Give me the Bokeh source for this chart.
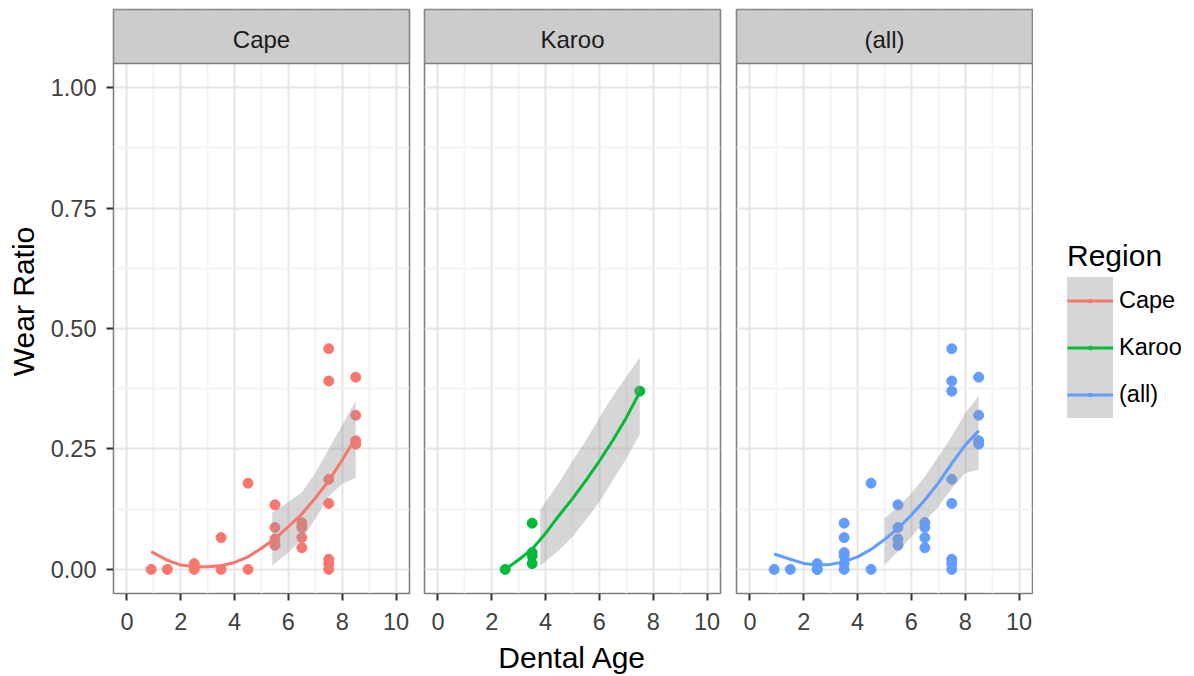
import numpy as np
from bokeh.plotting import figure
from bokeh.models import Range1d, FixedTicker, Grid, Legend, LegendItem
from bokeh.layouts import row
from bokeh.embed import file_html
from bokeh.resources import INLINE
from bokeh.core.properties import value

# ---------------- data ----------------
regions = ["Cape", "Karoo", "(all)"]
colors = ["#F8766D", "#00BA38", "#619CFF"]

cape_age = [0.9, 1.5, 2.5, 2.5, 3.5, 3.5, 4.5, 4.5,
            5.5, 5.5, 5.5, 5.5, 6.5, 6.5, 6.5, 6.5,
            7.5, 7.5, 7.5, 7.5, 7.5, 7.5, 7.5, 8.5, 8.5, 8.5, 8.5]
cape_wear = [0.0, 0.0, 0.0, 0.012, 0.066, 0.0, 0.179, 0.0,
             0.134, 0.087, 0.063, 0.05, 0.097, 0.087, 0.066, 0.045,
             0.458, 0.391, 0.187, 0.137, 0.021, 0.012, 0.0, 0.399, 0.32, 0.267, 0.26]

karoo_age = [2.5, 3.5, 3.5, 3.5, 3.5, 7.5]
karoo_wear = [0.0, 0.096, 0.035, 0.028, 0.012, 0.37]

# smoothed curves (loess)
cape_fit_x = [0.9, 1.5, 2.0, 2.5, 3.0, 3.5, 4.0, 4.5, 5.0, 5.5, 6.0, 6.5, 7.0, 7.5, 8.0, 8.5]
cape_fit_y = [0.037, 0.019, 0.009, 0.0055, 0.0055, 0.0076, 0.0145, 0.026, 0.044, 0.064,
              0.089, 0.115, 0.148, 0.184, 0.227, 0.274]
cape_band_x = [5.4, 6.0, 6.5, 7.0, 7.5, 8.0, 8.5]
cape_band_lo = [0.008, 0.035, 0.062, 0.105, 0.152, 0.178, 0.19]
cape_band_hi = [0.118, 0.14, 0.16, 0.2, 0.25, 0.3, 0.35]

karoo_fit_x = [2.5, 3.0, 3.5, 4.0, 4.5, 5.0, 5.5, 6.0, 6.5, 7.0, 7.5]
karoo_fit_y = [0.0, 0.02, 0.042, 0.075, 0.112, 0.147, 0.185, 0.225, 0.268, 0.315, 0.368]
karoo_band_x = [3.8, 4.5, 5.0, 5.5, 6.0, 6.5, 7.0, 7.5]
karoo_band_lo = [0.007, 0.04, 0.068, 0.103, 0.14, 0.185, 0.23, 0.28]
karoo_band_hi = [0.124, 0.18, 0.225, 0.268, 0.315, 0.36, 0.40, 0.44]

all_fit_x = [0.9, 1.5, 2.0, 2.5, 3.0, 3.5, 4.0, 4.5, 5.0, 5.5, 6.0, 6.5, 7.0, 7.5, 8.0, 8.5]
all_fit_y = [0.032, 0.021, 0.0125, 0.009, 0.0104, 0.016, 0.026, 0.0415, 0.062, 0.085,
             0.113, 0.144, 0.179, 0.22, 0.258, 0.288]
all_band_x = [5.0, 5.5, 6.0, 6.5, 7.0, 7.5, 8.0, 8.5]
all_band_lo = [0.009, 0.037, 0.068, 0.099, 0.13, 0.168, 0.2, 0.207]
all_band_hi = [0.106, 0.13, 0.158, 0.193, 0.234, 0.276, 0.324, 0.36]

x_ticks = [0, 2, 4, 6, 8, 10]
x_minor = [1, 3, 5, 7, 9]
y_ticks = [0.0, 0.25, 0.5, 0.75, 1.0]
y_minor = [0.125, 0.375, 0.625, 0.875]
y_tick_labels = ["0.00", "0.25", "0.50", "0.75", "1.00"]

x_title = "Dental Age"
y_title = "Wear Ratio"
legend_title = "Region"

# ---------------- styling ----------------
FONT = "Liberation Sans"
X_LO, X_HI = -0.5, 10.5
Y_LO, Y_HI = -0.05, 1.05
STRIP_TOP = 1.1622          # strip drawn above the panel inside the frame
BORDER = "#7F7F7F"
TICK_TEXT = "#404040"
H = 676
TOP, BOTTOM = 9, 83


def make_panel(idx, ages, wears, fx, fy, bx, blo, bhi, show_y, show_xlabel, mbl, mbr):
    c = colors[idx]
    p = figure(frame_width=296, height=H,
               x_range=Range1d(X_LO, X_HI), y_range=Range1d(Y_LO, STRIP_TOP),
               output_backend="svg", toolbar_location=None,
               y_axis_location="left" if show_y else None,
               min_border_left=mbl, min_border_right=mbr,
               min_border_top=TOP, min_border_bottom=BOTTOM,
               background_fill_color="white", border_fill_color="white",
               outline_line_color=BORDER, outline_line_width=1.6)
    p.center = [r for r in p.center if not isinstance(r, Grid)]
    gx = Grid(dimension=0, ticker=FixedTicker(ticks=x_ticks, minor_ticks=x_minor),
              grid_line_color="#E5E5E5", grid_line_width=2,
              minor_grid_line_color="#F3F3F3", minor_grid_line_width=2)
    gy = Grid(dimension=1, ticker=FixedTicker(ticks=y_ticks, minor_ticks=y_minor),
              grid_line_color="#E5E5E5", grid_line_width=2,
              minor_grid_line_color="#F3F3F3", minor_grid_line_width=2)
    p.add_layout(gx, "center")
    p.add_layout(gy, "center")

    xa = p.xaxis[0]
    xa.ticker = FixedTicker(ticks=x_ticks, minor_ticks=x_minor)
    xa.axis_line_color = None
    xa.major_tick_out = 7
    xa.major_tick_in = 0
    xa.minor_tick_out = 0
    xa.minor_tick_in = 0
    xa.major_tick_line_color = "#333333"
    xa.major_tick_line_width = 2
    xa.major_label_text_font = FONT
    xa.major_label_text_font_size = "23.5px"
    xa.major_label_text_color = TICK_TEXT
    xa.major_label_standoff = 12
    if show_xlabel:
        xa.axis_label = x_title
        xa.axis_label_text_font = FONT
        xa.axis_label_text_font_size = "30px"
        xa.axis_label_text_font_style = "normal"
        xa.axis_label_text_color = "black"
        xa.axis_label_standoff = 8

    if show_y:
        ya = p.yaxis[0]
        ya.ticker = FixedTicker(ticks=y_ticks, minor_ticks=y_minor)
        ya.major_label_overrides = {t: l for t, l in zip(y_ticks, y_tick_labels)}
        ya.axis_line_color = None
        ya.major_tick_out = 7
        ya.major_tick_in = 0
        ya.minor_tick_out = 0
        ya.minor_tick_in = 0
        ya.major_tick_line_color = "#333333"
        ya.major_tick_line_width = 2
        ya.major_label_text_font = FONT
        ya.major_label_text_font_size = "23.5px"
        ya.major_label_text_color = TICK_TEXT
        ya.major_label_standoff = 10
        ya.axis_label = y_title
        ya.axis_label_text_font = FONT
        ya.axis_label_text_font_size = "30px"
        ya.axis_label_text_font_style = "normal"
        ya.axis_label_text_color = "black"
        ya.axis_label_standoff = 8

    # data: points, then confidence ribbon, then smooth line
    p.scatter(ages, wears, size=10, marker="circle", fill_color=c, line_color=c)
    p.varea(x=bx, y1=blo, y2=bhi, fill_color="#999999", fill_alpha=0.4)
    p.line(fx, fy, line_color=c, line_width=3)

    # facet strip
    p.quad(left=[X_LO], right=[X_HI], bottom=[Y_HI], top=[STRIP_TOP],
           fill_color="#CCCCCC", line_color=BORDER, line_width=1.6)
    p.text(x=[(X_LO + X_HI) / 2], y=[(Y_HI + STRIP_TOP) / 2], text=[regions[idx]],
           text_align="center", text_baseline="middle", y_offset=3,
           text_font=value(FONT), text_font_size=value("24px"), text_color="#1A1A1A")
    return p


all_age = cape_age + karoo_age
all_wear = cape_wear + karoo_wear

p1 = make_panel(0, cape_age, cape_wear, cape_fit_x, cape_fit_y,
                cape_band_x, cape_band_lo, cape_band_hi, True, False, 113, 7)
p2 = make_panel(1, karoo_age, karoo_wear, karoo_fit_x, karoo_fit_y,
                karoo_band_x, karoo_band_lo, karoo_band_hi, False, True, 8, 8)
p3 = make_panel(2, all_age, all_wear, all_fit_x, all_fit_y,
                all_band_x, all_band_lo, all_band_hi, False, False, 8, 1)

# ---------------- legend figure ----------------
lf = figure(width=160, height=H, x_range=Range1d(0, 1), y_range=Range1d(0, 1),
            output_backend="svg", toolbar_location=None,
            x_axis_location=None, y_axis_location=None,
            min_border_left=0, min_border_right=0,
            min_border_bottom=BOTTOM, min_border_top=TOP,
            outline_line_color=None,
            background_fill_color="white", border_fill_color="white")
lf.center = [r for r in lf.center if not isinstance(r, Grid)]

items = []
nan = np.array([np.nan])
for name, c in zip(regions, colors):
    k_bg = lf.patch(x=nan, y=nan, fill_color="#D6D6D6", line_color="#D6D6D6",
                    line_width=14, line_join="miter")
    k_ln = lf.line(x=nan, y=nan, line_color=c, line_width=3)
    k_pt = lf.scatter(x=nan, y=nan, marker="dot", size=10, line_color=c, fill_color=c)
    items.append(LegendItem(label=name, renderers=[k_bg, k_ln, k_pt]))

legend = Legend(items=items, location=(34, 175), orientation="vertical",
                glyph_width=46, glyph_height=47, label_height=47, spacing=0,
                padding=0, margin=0, label_standoff=6,
                label_text_font=FONT, label_text_font_size="23.5px", label_text_color="black",
                title=legend_title, title_text_font=FONT, title_text_font_size="30px",
                title_text_font_style="normal", title_text_color="black", title_standoff=4,
                border_line_color=None, background_fill_alpha=0)
lf.add_layout(legend, "center")

layout = row(p1, p2, p3, lf)

open("out.html", "w").write(file_html(layout, INLINE))
